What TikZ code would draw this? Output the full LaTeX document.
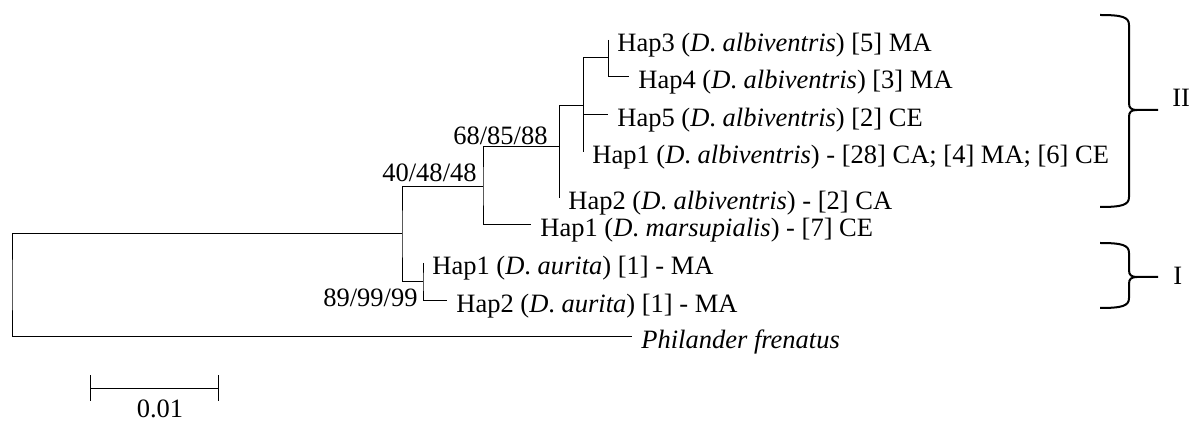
\documentclass[tikz,border=0pt]{standalone}
\usepackage{fontspec}
\setmainfont{Liberation Serif}
\newcommand{\cladebrace}[3]{%
  \draw[clade] (1100,#1) .. controls (1122,#1) and (1129,{#1+2}) .. (1129,{#1+10})
    -- (1129,{#2-7}) .. controls (1129,{#2-2}) and (1131,#2) .. (1137,#2) -- (1158,#2);
  \draw[clade] (1100,#3) .. controls (1122,#3) and (1129,{#3-2}) .. (1129,{#3-10})
    -- (1129,{#2+7}) .. controls (1129,{#2+2}) and (1131,#2) .. (1137,#2);
}
\begin{document}
\begin{tikzpicture}[x=0.5pt,y=-0.5pt,
    every node/.style={font=\fontsize{13.25}{16}\selectfont},
    branch/.style={line width=0.5pt},
    leaf/.style={anchor=west,inner xsep=4.5pt,inner ysep=0pt,text height=12pt,text depth=0pt},
    boot/.style={anchor=base east,inner sep=0pt},
    clade/.style={line width=1pt}]
    \useasboundingbox (0,0) rectangle (1192,421);

    % Internal nodes
    \coordinate (nR) at (12,285);
    \coordinate (nA) at (402,234);
    \coordinate (nB) at (423,282);
    \coordinate (nC) at (483,187);
    \coordinate (nD) at (559,147);
    \coordinate (nE) at (583,106);
    \coordinate (nF) at (608,58);

    % Leaves
    \node[leaf] (hap3) at (608,40) {Hap3 (\textit{D}. \textit{albiventris}) [5] MA};
    \node[leaf] (hap4) at (629,77) {Hap4 (\textit{D}. \textit{albiventris}) [3] MA};
    \node[leaf] (hap5) at (608,115) {Hap5 (\textit{D}. \textit{albiventris}) [2] CE};
    \node[leaf] (hap1a) at (583,152) {Hap1 (\textit{D}. \textit{albiventris}) - [28] CA; [4] MA; [6] CE};
    \node[leaf] (hap2a) at (559,198) {Hap2 (\textit{D}. \textit{albiventris}) - [2] CA};
    \node[leaf] (hap1m) at (531,225) {Hap1 (\textit{D}. \textit{marsupialis}) - [7] CE};
    \node[leaf] (hap1u) at (423,263) {Hap1 (\textit{D}. \textit{aurita}) [1] - MA};
    \node[leaf] (hap2u) at (447,301) {Hap2 (\textit{D}. \textit{aurita}) [1] - MA};
    \node[leaf] (phil) at (632,337) {\textit{Philander frenatus}};

    % Branches
    \draw[branch] (hap3) -| (nF) |- (hap4);
    \draw[branch] (nF) -| (nE) |- (hap1a);
    \draw[branch] (nE |- hap5) -- (hap5);
    \draw[branch] (nE) -| (nD) |- (hap2a);
    \draw[branch] (nD) -| (nC) |- (hap1m);
    \draw[branch] (nC) -| (nA) |- (nB);
    \draw[branch] (hap1u) -| (nB) |- (hap2u);
    \draw[branch] (nA) -| (nR) |- (phil);

    % Support values
    \node[boot] (bootA) at (477,182) {40/48/48};
    \node[boot] (bootC) at (548,145) {68/85/88};
    \node[boot] (bootB) at (418,307) {89/99/99};

    % Clades
    \cladebrace{15}{110}{207}
    \node[anchor=base west,inner sep=0pt] (cladeII) at (1172,107) {II};
    \cladebrace{243}{277}{308}
    \node[anchor=base west,inner sep=0pt] (cladeI) at (1173,285) {I};

    % Scale bar
    \coordinate (sb1) at (90,389);
    \coordinate (sb2) at (218,389);
    \draw[branch] (sb1) -- (sb2);
    \draw[branch] ([yshift=-6]sb1) -- ([yshift=7]sb1);
    \draw[branch] ([yshift=-6]sb2) -- ([yshift=7]sb2);
    \node[anchor=base,inner sep=0pt] (scale) at (160,418) {0.01};
\end{tikzpicture}
\end{document}
